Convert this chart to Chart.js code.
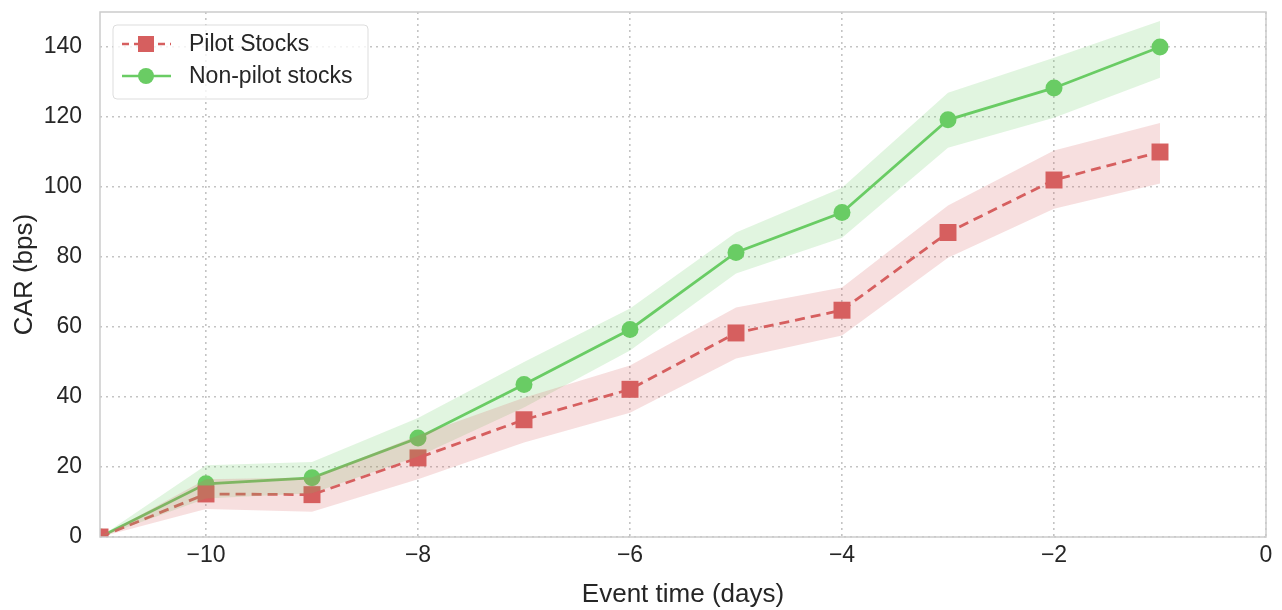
<!DOCTYPE html>
<html>
<head>
<meta charset="utf-8">
<script src="https://cdn.jsdelivr.net/npm/chart.js@4"></script>
<style>
  body { margin: 0; background: #fff; }
  #wrap { width: 1282px; height: 610px; position: relative; }
</style>
</head>
<body>
<div id="wrap"><canvas id="carChart"></canvas></div>
<script>
// event days and cumulative abnormal returns (bps)
const days = [-11, -10, -9, -8, -7, -6, -5, -4, -3, -2, -1];
const pilotCar = [0, 12.3, 12.1, 22.6, 33.5, 42.2, 58.3, 64.8, 87.0, 102.0, 110.0];
const pilotLow = [0, 8.0, 7.2, 16.5, 27.0, 35.5, 51.0, 57.6, 79.8, 93.8, 101.0];
const pilotHigh = [0, 16.5, 17.0, 29.0, 39.8, 49.0, 65.6, 71.3, 94.7, 110.4, 118.3];
const nonPilotCar = [0, 15.2, 16.9, 28.3, 43.6, 59.3, 81.3, 92.7, 119.2, 128.3, 140.0];
const nonPilotLow = [0, 11.0, 12.5, 23.0, 37.0, 53.3, 75.3, 85.5, 111.2, 119.8, 131.2];
const nonPilotHigh = [0, 20.5, 21.4, 34.0, 50.0, 65.3, 87.0, 99.8, 126.9, 136.9, 147.4];
const xTicks = [-10, -8, -6, -4, -2, 0];
const yTicks = [0, 20, 40, 60, 80, 100, 120, 140];

const red = '#d65f5f';
const green = '#6acc64';
const fontFam = '"Liberation Sans", Arial, sans-serif';

const toPoints = arr => arr.map((v, i) => ({ x: days[i], y: v }));

function bandPair(low, high, fillColor) {
    return [
        { label: '_low', data: toPoints(low), borderWidth: 0, pointRadius: 0, fill: false, showLine: true },
        { label: '_high', data: toPoints(high), borderWidth: 0, pointRadius: 0, fill: '-1', backgroundColor: fillColor, showLine: true }
    ];
}

// border box around the plot + legend inside the plot
const framePlugin = {
    id: 'frame',
    afterDraw(chart) {
        const c = chart.ctx, a = chart.chartArea;
        c.save();
        c.strokeStyle = '#cccccc';
        c.lineWidth = 1.5;
        c.strokeRect(a.left, a.top, a.right - a.left, a.bottom - a.top);

        // legend
        const bx = a.left + 13, by = a.top + 13, bw = 255, bh = 74;
        c.fillStyle = 'rgba(255,255,255,0.8)';
        c.strokeStyle = '#dddddd';
        c.lineWidth = 1;
        c.beginPath();
        c.roundRect(bx, by, bw, bh, 4);
        c.fill();
        c.stroke();

        const rows = [
            { label: 'Pilot Stocks', color: red, dash: [7, 5], shape: 'square', y: by + 19 },
            { label: 'Non-pilot stocks', color: green, dash: [], shape: 'circle', y: by + 51 }
        ];
        rows.forEach(r => {
            c.strokeStyle = r.color;
            c.fillStyle = r.color;
            c.lineWidth = 2.5;
            c.setLineDash(r.dash);
            c.beginPath();
            c.moveTo(bx + 9, r.y);
            c.lineTo(bx + 58, r.y);
            c.stroke();
            c.setLineDash([]);
            const mx = bx + 33;
            if (r.shape === 'square') {
                c.fillRect(mx - 8, r.y - 8, 16, 16);
            } else {
                c.beginPath();
                c.arc(mx, r.y, 8, 0, Math.PI * 2);
                c.fill();
            }
            c.fillStyle = '#262626';
            c.font = '23px ' + fontFam;
            c.textBaseline = 'middle';
            c.fillText(r.label, bx + 76, r.y + 1);
        });
        c.restore();
    }
};

const gridOpts = { color: '#c4c4c4', lineWidth: 1.6, drawTicks: false };
const borderOpts = { display: false, dash: [2, 4] };

const ctx = document.getElementById('carChart').getContext('2d');
const chartCar = new Chart(ctx, {
    type: 'scatter',
    data: {
        datasets: [
            ...bandPair(pilotLow, pilotHigh, 'rgba(214, 95, 95, 0.2)'),
            ...bandPair(nonPilotLow, nonPilotHigh, 'rgba(106, 204, 100, 0.2)'),
            {
                label: 'Pilot Stocks',
                data: toPoints(pilotCar),
                showLine: true,
                borderColor: red,
                backgroundColor: red,
                borderWidth: 2.8,
                borderDash: [10, 6],
                pointStyle: 'rect',
                pointRadius: 12,
                pointBorderWidth: 0,
                fill: false
            },
            {
                label: 'Non-pilot stocks',
                data: toPoints(nonPilotCar),
                showLine: true,
                borderColor: green,
                backgroundColor: green,
                borderWidth: 2.8,
                pointStyle: 'circle',
                pointRadius: 8.5,
                pointBorderWidth: 0,
                fill: false
            }
        ]
    },
    options: {
        responsive: true,
        maintainAspectRatio: false,
        animation: false,
        layout: { padding: { top: 10, right: 16, left: 0, bottom: 0 } },
        plugins: {
            legend: { display: false },
            tooltip: { enabled: false }
        },
        scales: {
            x: {
                type: 'linear',
                min: -11,
                max: 0,
                afterBuildTicks: axis => { axis.ticks = xTicks.map(v => ({ value: v })); },
                afterFit: axis => { axis.height = 73; axis.paddingLeft = 0; axis.paddingRight = 0; },
                border: borderOpts,
                grid: gridOpts,
                ticks: {
                    color: '#262626',
                    font: { family: fontFam, size: 23 },
                    padding: 5,
                    maxRotation: 0,
                    callback: v => v < 0 ? '\u2212' + Math.abs(v) : String(v)
                },
                title: {
                    display: true,
                    text: 'Event time (days)',
                    color: '#262626',
                    font: { family: fontFam, size: 26 },
                    padding: { top: 0, bottom: 0 }
                }
            },
            y: {
                min: 0,
                max: 150,
                afterBuildTicks: axis => { axis.ticks = yTicks.map(v => ({ value: v })); },
                afterFit: axis => { axis.width = 100; axis.paddingTop = 0; axis.paddingBottom = 0; },
                border: borderOpts,
                grid: gridOpts,
                ticks: {
                    color: '#262626',
                    font: { family: fontFam, size: 23 },
                    padding: 18
                },
                title: {
                    display: true,
                    text: 'CAR (bps)',
                    color: '#262626',
                    font: { family: fontFam, size: 26 },
                    padding: { top: 9, bottom: 0 }
                }
            }
        }
    },
    plugins: [framePlugin]
});
</script>
</body>
</html>
